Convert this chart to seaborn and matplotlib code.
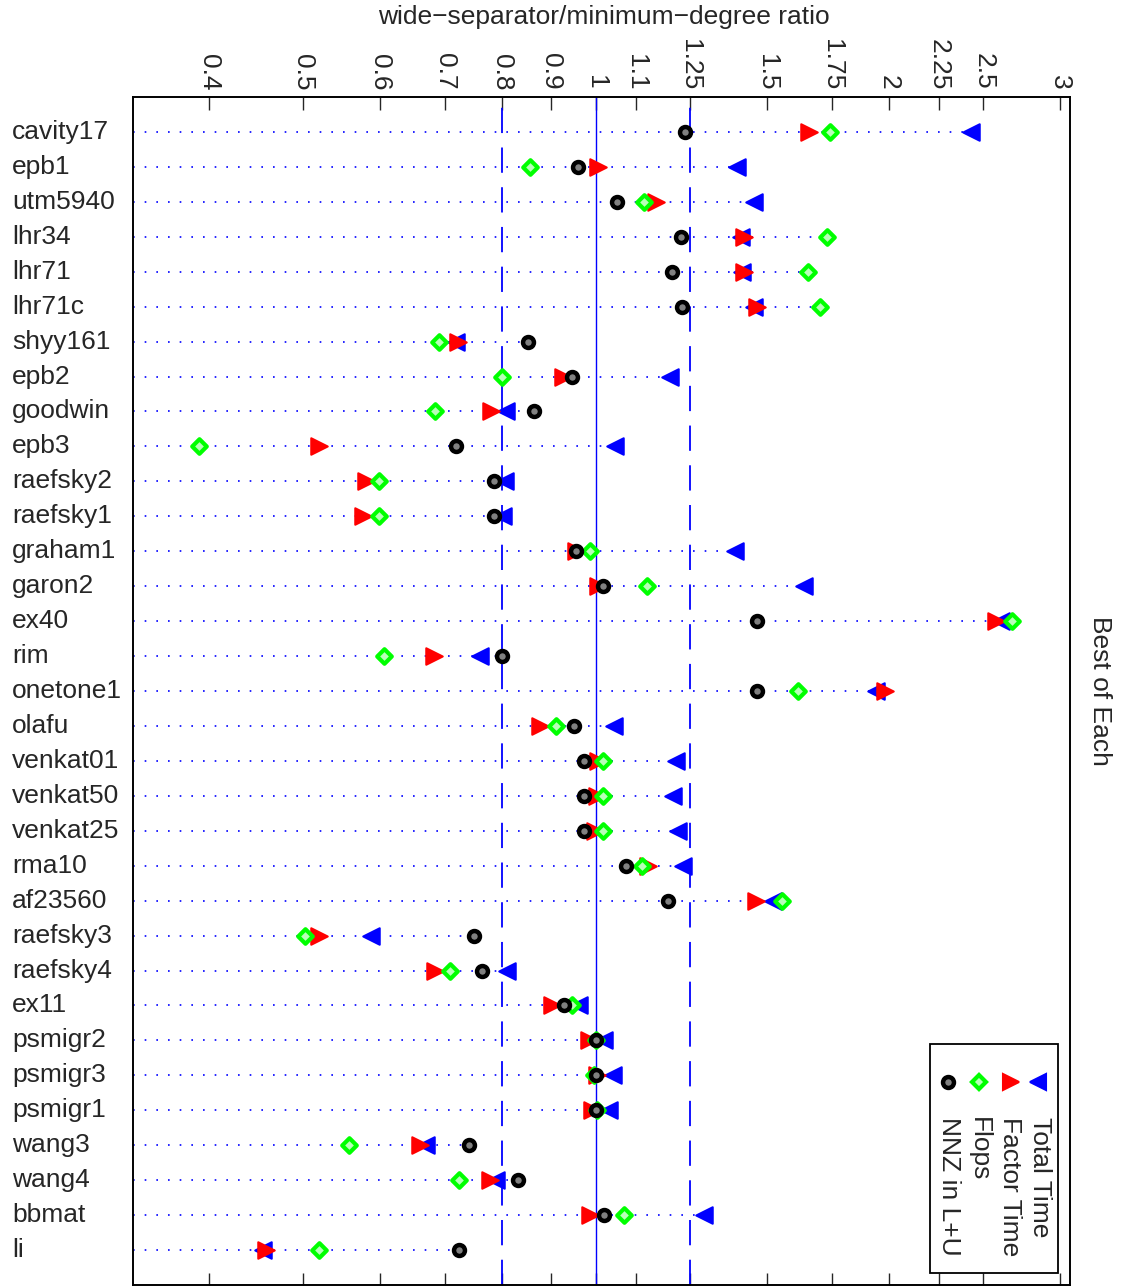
import numpy as np
import pandas as pd
import seaborn as sns
import matplotlib.pyplot as plt
from matplotlib import transforms
from matplotlib.patches import Rectangle
from matplotlib.lines import Line2D
from matplotlib.ticker import NullLocator

# ---------------------------------------------------------------------------
# data: ratio wide-separator / minimum-degree, best of each
# ---------------------------------------------------------------------------
matrices = ['cavity17', 'epb1', 'utm5940', 'lhr34', 'lhr71', 'lhr71c', 'shyy161',
            'epb2', 'goodwin', 'epb3', 'raefsky2', 'raefsky1', 'graham1', 'garon2',
            'ex40', 'rim', 'onetone1', 'olafu', 'venkat01', 'venkat50', 'venkat25',
            'rma10', 'af23560', 'raefsky3', 'raefsky4', 'ex11', 'psmigr2', 'psmigr3',
            'psmigr1', 'wang3', 'wang4', 'bbmat', 'li']

total_time = [2.43, 1.395, 1.455, 1.411, 1.413, 1.455, 0.719, 1.191, 0.809, 1.047,
              0.807, 0.802, 1.389, 1.638, 2.607, 0.761, 1.942, 1.044, 1.209, 1.201,
              1.215, 1.229, 1.521, 0.588, 0.811, 0.961, 1.020, 1.042, 1.032, 0.669,
              0.789, 1.292, 0.455]
factor_time = [1.654, 1.004, 1.154, 1.420, 1.420, 1.463, 0.722, 0.926, 0.781, 0.519,
               0.581, 0.577, 0.955, 1.004, 2.577, 0.682, 1.984, 0.876, 1.006, 1.003,
               0.997, 1.131, 1.459, 0.519, 0.684, 0.901, 0.984, 1.003, 0.991, 0.660,
               0.779, 0.987, 0.458]
flops = [1.740, 0.856, 1.121, 1.727, 1.652, 1.700, 0.690, 0.800, 0.683, 0.391,
         0.598, 0.598, 0.986, 1.129, 2.679, 0.606, 1.612, 0.909, 1.017, 1.017,
         1.017, 1.116, 1.554, 0.502, 0.708, 0.946, 1.0, 0.996, 1.003, 0.558,
         0.724, 1.070, 0.519]
nnz_lu = [1.236, 0.958, 1.051, 1.222, 1.197, 1.225, 0.851, 0.944, 0.863, 0.719,
          0.786, 0.786, 0.955, 1.016, 1.465, 0.800, 1.465, 0.950, 0.973, 0.973,
          0.973, 1.073, 1.187, 0.749, 0.763, 0.928, 1.0, 1.0, 1.0, 0.741,
          0.832, 1.019, 0.724]

tick_vals = [0.4, 0.5, 0.6, 0.7, 0.8, 0.9, 1, 1.1, 1.25, 1.5, 1.75, 2, 2.25, 2.5, 3]
tick_labels = ['0.4', '0.5', '0.6', '0.7', '0.8', '0.9', '1', '1.1', '1.25',
               '1.5', '1.75', '2', '2.25', '2.5', '3']

df = pd.DataFrame({'matrix': matrices, 'Total Time': total_time,
                   'Factor Time': factor_time, 'Flops': flops, 'NNZ in L+U': nnz_lu})
df['row'] = np.arange(1, len(df) + 1)

sns.set_style('white')
plt.rcParams['font.family'] = ['Liberation Sans', 'DejaVu Sans']
FS = 19

W, H = 1124, 1288
fig = plt.figure(figsize=(W / 100, H / 100), dpi=100)
ax = fig.add_axes([133 / W, 3 / H, 937 / W, 1188 / H])

XMIN, XMAX = 0.3345, 3.07

# dotted guide from the left edge up to the largest value of each row
row_max = df[['Total Time', 'Factor Time', 'Flops', 'NNZ in L+U']].max(axis=1)
ax.hlines(df['row'], XMIN, row_max, colors='blue', linestyles=(0, (1, 6)),
          linewidth=1.2, zorder=1)

# reference lines
ax.axvline(1, color='blue', linewidth=1.0, zorder=1)
for v in (0.8, 1.25):
    ax.axvline(v, color='blue', linewidth=1.3, linestyle=(0, (14, 8)), zorder=1)

# series (draw order: blue, red, green, black on top)
series = [
    ('Total Time', '<', 'blue', 'blue', 140, 1.5),
    ('Factor Time', '>', 'red', 'red', 140, 1.5),
    ('Flops', 'D', '#b8ffb8', '#00ff00', 55, 3.0),
    ('NNZ in L+U', 'o', 'gray', 'black', 62, 3.2),
]
for i, (col, mk, fc, ec, s, lw) in enumerate(series):
    sns.scatterplot(data=df, x=col, y='row', marker=mk, s=s, color=fc,
                    edgecolor=ec, linewidth=lw, ax=ax, zorder=3 + i)

ax.set_xscale('log')
ax.set_xlim(XMIN, XMAX)
ax.set_ylim(34, 0)
ax.set_xticks(tick_vals)
ax.set_xticklabels(tick_labels)
ax.xaxis.set_minor_locator(NullLocator())
ax.set_yticks([])
ax.set_xlabel('')
ax.set_ylabel('')
ax.tick_params(axis='x', which='major', top=True, bottom=True, labeltop=True,
               labelbottom=False, direction='in', length=9, width=1,
               labelsize=FS, labelrotation=-90, pad=5)
for sp in ax.spines.values():
    sp.set_visible(True)
    sp.set_color('black')
    sp.set_linewidth(1.4)

# row names, left aligned in figure space
trans = transforms.blended_transform_factory(fig.transFigure, ax.transData)
for name, r in zip(df['matrix'], df['row']):
    fig.text(12 / W, r, name, transform=trans, ha='left', va='center', fontsize=FS)

fig.text(604 / W, 1 - 17 / H, 'wide\u2212separator/minimum\u2212degree ratio',
         ha='center', va='center', fontsize=FS)
fig.text(1100 / W, 1 - 691 / H, 'Best of Each', rotation=-90,
         ha='center', va='center', fontsize=FS)

# rotated legend built by hand
fig.add_artist(Rectangle((930 / W, 1 - 1273 / H), 128 / W, 229 / H,
                         transform=fig.transFigure, facecolor='white',
                         edgecolor='black', linewidth=1.3, zorder=10))
leg_y = 1 - 1082 / H
leg_x = [1038, 1011, 979, 948]
text_x = [1040, 1010, 979, 949]
for (col, mk, fc, ec, s, lw), lx, tx in zip(series, leg_x, text_x):
    fig.add_artist(Line2D([lx / W], [leg_y], marker=mk, markersize=np.sqrt(s),
                          markerfacecolor=fc, markeredgecolor=ec,
                          markeredgewidth=lw, linestyle='none',
                          transform=fig.transFigure, zorder=11))
    fig.text(tx / W, 1 - 1117 / H, col, rotation=-90, ha='center', va='top',
             fontsize=FS, zorder=12)

fig.savefig('out.png', dpi=100)
